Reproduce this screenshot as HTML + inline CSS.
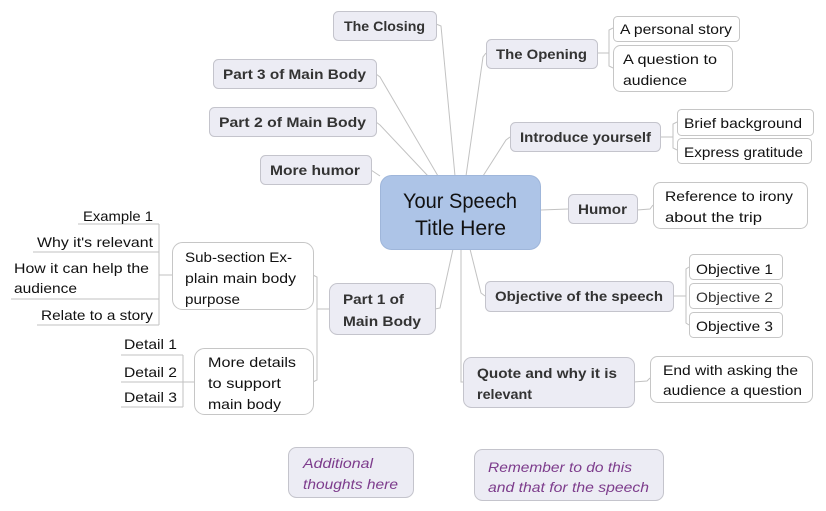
<!DOCTYPE html>
<html>
<head>
<meta charset="utf-8">
<style>
  html,body{margin:0;padding:0;background:#fff;}
  svg{display:block;}
  text{font-family:"Liberation Sans",sans-serif;}
  .b{font-weight:bold;font-size:14px;fill:#333;}
  .n{font-size:14px;fill:#111;}
  .c{font-size:21px;fill:#111;}
  .i{font-style:italic;font-size:14px;fill:#7d3c8c;}
  .m{fill:#ececf4;stroke:#c4c4cc;stroke-width:1;}
  .w{fill:#fff;stroke:#c6c6c6;stroke-width:1;}
  .l{fill:none;stroke:#c2c2c2;stroke-width:1;}
</style>
</head>
<body>
<svg width="826" height="511" viewBox="0 0 826 511" xmlns="http://www.w3.org/2000/svg">
  <!-- connectors from center -->
  <polyline class="l" points="436,24 441,26 455,176"/>
  <polyline class="l" points="376,74 380,77 438,176"/>
  <polyline class="l" points="376,122 380,125 428,176"/>
  <polyline class="l" points="371,170 380,176"/>
  <polyline class="l" points="486,53 483,57 466,176"/>
  <polyline class="l" points="510,137 506,140 483,176"/>
  <polyline class="l" points="541,210 568,209"/>
  <polyline class="l" points="470,249 481,293 485,296"/>
  <polyline class="l" points="461,249 461,382 463,382"/>
  <polyline class="l" points="453,249 440,308 435,309"/>

  <!-- child connectors right side -->
  <polyline class="l" points="597,53 609,53"/>
  <polyline class="l" points="613,28 609,30 609,66 613,68"/>
  <polyline class="l" points="660,137 673,137"/>
  <polyline class="l" points="677,122 673,124 673,148 677,150"/>
  <polyline class="l" points="637,210 650,209 653,205"/>
  <polyline class="l" points="673,296 686,296"/>
  <polyline class="l" points="689,267 686,269 686,323 689,325"/>
  <polyline class="l" points="634,382 647,381 650,378"/>

  <!-- left side connectors -->
  <polyline class="l" points="329,309 317,309"/>
  <polyline class="l" points="313,275 317,277 317,380 313,382"/>
  <polyline class="l" points="172,275 159,275"/>
  <polyline class="l" points="159,224 159,325"/>
  <line class="l" x1="78" y1="224" x2="159" y2="224"/>
  <line class="l" x1="33" y1="252" x2="159" y2="252"/>
  <line class="l" x1="11" y1="299" x2="159" y2="299"/>
  <line class="l" x1="37" y1="325" x2="159" y2="325"/>
  <polyline class="l" points="194,382 183,382"/>
  <polyline class="l" points="183,355 183,407"/>
  <line class="l" x1="121" y1="355" x2="183" y2="355"/>
  <line class="l" x1="121" y1="382" x2="183" y2="382"/>
  <line class="l" x1="121" y1="407" x2="183" y2="407"/>

  <!-- central node -->
  <rect x="380.5" y="175.5" width="160" height="74" rx="11" fill="#adc4e7" stroke="#9fb6da"/>
  <text class="c" x="403" y="208" textLength="114" lengthAdjust="spacingAndGlyphs">Your Speech</text>
  <text class="c" x="415" y="235" textLength="91" lengthAdjust="spacingAndGlyphs">Title Here</text>

  <!-- main nodes left/top -->
  <rect class="m" x="333.5" y="11.5" width="103" height="29" rx="5"/>
  <text class="b" x="344" y="31" textLength="81" lengthAdjust="spacingAndGlyphs">The Closing</text>

  <rect class="m" x="213.5" y="59.5" width="163" height="29" rx="5"/>
  <text class="b" x="223" y="79" textLength="143" lengthAdjust="spacingAndGlyphs">Part 3 of Main Body</text>

  <rect class="m" x="209.5" y="107.5" width="167" height="29" rx="5"/>
  <text class="b" x="219" y="127" textLength="147" lengthAdjust="spacingAndGlyphs">Part  2 of Main Body</text>

  <rect class="m" x="260.5" y="155.5" width="111" height="29" rx="5"/>
  <text class="b" x="270" y="175" textLength="90" lengthAdjust="spacingAndGlyphs">More humor</text>

  <!-- main nodes right -->
  <rect class="m" x="486.5" y="39.5" width="111" height="29" rx="5"/>
  <text class="b" x="496" y="59" textLength="91" lengthAdjust="spacingAndGlyphs">The Opening</text>

  <rect class="m" x="510.5" y="122.5" width="150" height="29" rx="5"/>
  <text class="b" x="520" y="142" textLength="131" lengthAdjust="spacingAndGlyphs">Introduce yourself</text>

  <rect class="m" x="568.5" y="194.5" width="69" height="29" rx="5"/>
  <text class="b" x="578" y="214" textLength="49" lengthAdjust="spacingAndGlyphs">Humor</text>

  <rect class="m" x="485.5" y="281.5" width="188" height="30" rx="5"/>
  <text class="b" x="495" y="301" textLength="168" lengthAdjust="spacingAndGlyphs">Objective of the speech</text>

  <rect class="m" x="463.5" y="357.5" width="171" height="50" rx="8"/>
  <text class="b" x="477" y="378" textLength="140" lengthAdjust="spacingAndGlyphs">Quote and why it is</text>
  <text class="b" x="477" y="399" textLength="55" lengthAdjust="spacingAndGlyphs">relevant</text>

  <rect class="m" x="329.5" y="283.5" width="106" height="51" rx="8"/>
  <text class="b" x="343" y="304" textLength="61" lengthAdjust="spacingAndGlyphs">Part 1 of</text>
  <text class="b" x="343" y="326" textLength="78" lengthAdjust="spacingAndGlyphs">Main Body</text>

  <!-- child nodes right -->
  <rect class="w" x="613.5" y="16.5" width="126" height="25" rx="4"/>
  <text class="n" x="620" y="34" textLength="112" lengthAdjust="spacingAndGlyphs">A personal story</text>

  <rect class="w" x="613.5" y="45.5" width="119" height="46" rx="7"/>
  <text class="n" x="623" y="64" textLength="94" lengthAdjust="spacingAndGlyphs">A question to</text>
  <text class="n" x="623" y="85" textLength="64" lengthAdjust="spacingAndGlyphs">audience</text>

  <rect class="w" x="677.5" y="109.5" width="136" height="26" rx="4"/>
  <text class="n" x="684" y="128" textLength="118" lengthAdjust="spacingAndGlyphs">Brief background</text>

  <rect class="w" x="677.5" y="138.5" width="134" height="25" rx="4"/>
  <text class="n" x="684" y="157" textLength="119" lengthAdjust="spacingAndGlyphs">Express gratitude</text>

  <rect class="w" x="653.5" y="182.5" width="154" height="46" rx="7"/>
  <text class="n" x="665" y="201" textLength="128" lengthAdjust="spacingAndGlyphs">Reference to irony</text>
  <text class="n" x="665" y="222" textLength="97" lengthAdjust="spacingAndGlyphs">about the trip</text>

  <rect class="w" x="689.5" y="254.5" width="93" height="25" rx="4"/>
  <text class="n" x="696" y="274" textLength="77" lengthAdjust="spacingAndGlyphs" fill="#333">Objective 1</text>
  <rect class="w" x="689.5" y="283.5" width="93" height="25" rx="4"/>
  <text class="n" x="696" y="302" textLength="77" lengthAdjust="spacingAndGlyphs" style="fill:#333">Objective 2</text>
  <rect class="w" x="689.5" y="312.5" width="93" height="25" rx="4"/>
  <text class="n" x="696" y="331" textLength="77" lengthAdjust="spacingAndGlyphs">Objective 3</text>

  <rect class="w" x="650.5" y="356.5" width="162" height="46" rx="7"/>
  <text class="n" x="663" y="375" textLength="135" lengthAdjust="spacingAndGlyphs">End with asking the</text>
  <text class="n" x="663" y="395" textLength="139" lengthAdjust="spacingAndGlyphs">audience a question</text>

  <!-- child nodes left -->
  <rect class="w" x="172.5" y="242.5" width="141" height="67" rx="10"/>
  <text class="n" x="185" y="262" textLength="107" lengthAdjust="spacingAndGlyphs">Sub-section Ex-</text>
  <text class="n" x="185" y="283" textLength="111" lengthAdjust="spacingAndGlyphs">plain main body</text>
  <text class="n" x="185" y="304" textLength="55" lengthAdjust="spacingAndGlyphs">purpose</text>

  <rect class="w" x="194.5" y="348.5" width="119" height="66" rx="10"/>
  <text class="n" x="208" y="367" textLength="88" lengthAdjust="spacingAndGlyphs">More details</text>
  <text class="n" x="208" y="388" textLength="73" lengthAdjust="spacingAndGlyphs">to support</text>
  <text class="n" x="208" y="409" textLength="73" lengthAdjust="spacingAndGlyphs">main body</text>

  <text class="n" x="83" y="221" textLength="70" lengthAdjust="spacingAndGlyphs">Example 1</text>
  <text class="n" x="37" y="247" textLength="116" lengthAdjust="spacingAndGlyphs">Why it's relevant</text>
  <text class="n" x="14" y="273" textLength="135" lengthAdjust="spacingAndGlyphs">How it can help the</text>
  <text class="n" x="14" y="293" textLength="63" lengthAdjust="spacingAndGlyphs">audience</text>
  <text class="n" x="41" y="320" textLength="112" lengthAdjust="spacingAndGlyphs">Relate to a story</text>

  <text class="n" x="124" y="349" textLength="53" lengthAdjust="spacingAndGlyphs">Detail 1</text>
  <text class="n" x="124" y="377" textLength="53" lengthAdjust="spacingAndGlyphs">Detail 2</text>
  <text class="n" x="124" y="402" textLength="53" lengthAdjust="spacingAndGlyphs">Detail 3</text>

  <!-- floating notes -->
  <rect class="m" x="288.5" y="447.5" width="125" height="50" rx="8"/>
  <text class="i" x="303" y="468" textLength="70" lengthAdjust="spacingAndGlyphs">Additional</text>
  <text class="i" x="303" y="489" textLength="95" lengthAdjust="spacingAndGlyphs">thoughts here</text>

  <rect class="m" x="474.5" y="449.5" width="189" height="51" rx="8"/>
  <text class="i" x="488" y="472" textLength="144" lengthAdjust="spacingAndGlyphs">Remember to do this</text>
  <text class="i" x="488" y="492" textLength="161" lengthAdjust="spacingAndGlyphs">and that for the speech</text>
</svg>
</body>
</html>
